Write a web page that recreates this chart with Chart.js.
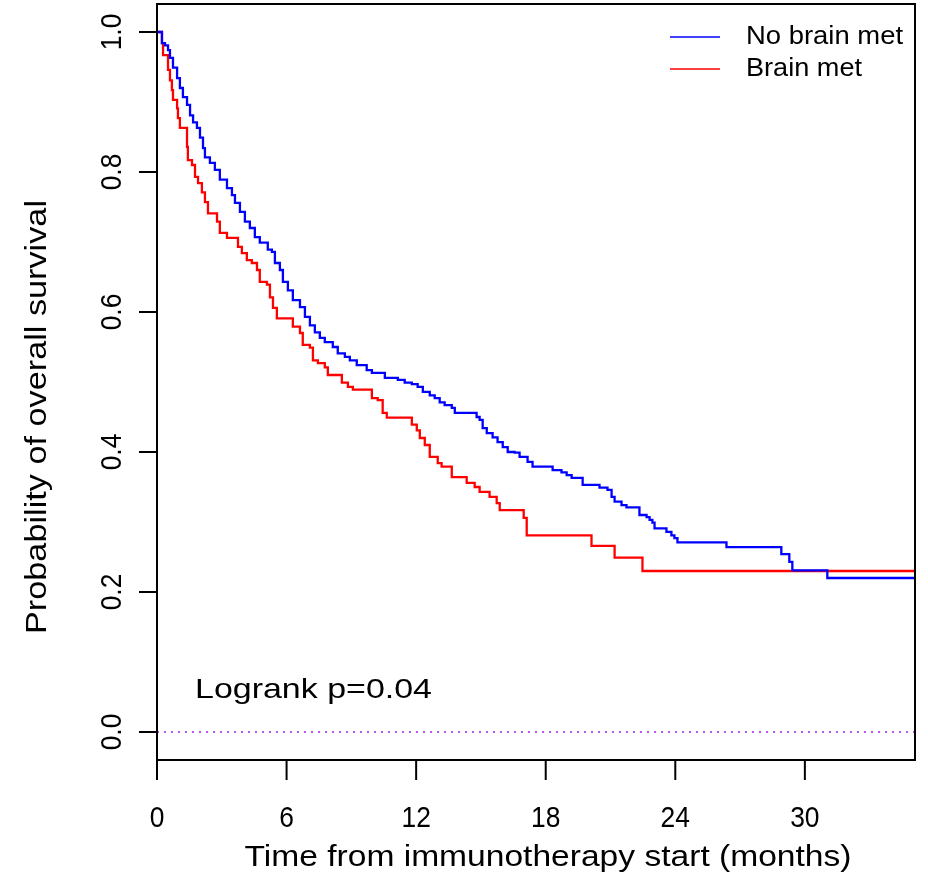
<!DOCTYPE html>
<html>
<head>
<meta charset="utf-8">
<script src="https://cdn.jsdelivr.net/npm/chart.js@4.4.1/dist/chart.umd.min.js"></script>
<style>
  body { margin: 0; background: #fff; }
  #wrap { width: 928px; height: 881px; }
</style>
</head>
<body>
<div id="wrap"><canvas id="kmChart" width="928" height="881"></canvas></div>
<script>
// survival curves (months, probability after each drop)
const noBrainTimes = [0, 0.23, 0.37, 0.51, 0.60, 0.74, 0.93, 1.06, 1.20, 1.39, 1.53, 1.67, 1.85, 1.99, 2.13, 2.22,
  2.45, 2.68, 2.91, 3.24, 3.47, 3.61, 3.84, 4.07, 4.30, 4.53, 4.76, 5.13, 5.32, 5.46, 5.69, 5.83, 6.06, 6.29,
  6.62, 6.85, 7.08, 7.31, 7.54, 7.77, 8.14, 8.37, 8.70, 8.93, 9.25, 9.71, 9.95, 10.55, 11.15, 11.47, 11.80,
  12.07, 12.31, 12.63, 12.86, 13.09, 13.32, 13.65, 13.79, 14.80, 14.94, 15.08, 15.27, 15.54, 15.77, 16.01,
  16.24, 16.56, 16.79, 17.16, 17.39, 18.32, 18.73, 18.97, 19.20, 19.71, 20.49, 20.86, 21.05, 21.19, 21.51,
  21.74, 22.34, 22.67, 22.81, 22.94, 23.04, 23.59, 23.82, 23.96, 24.10, 26.37, 28.91, 29.28, 29.42, 31.04, 35.1];
const noBrainSurv = [1.0, 0.984, 0.981, 0.974, 0.963, 0.949, 0.934, 0.920, 0.907, 0.896, 0.881, 0.871, 0.863, 0.849, 0.834, 0.821,
  0.813, 0.803, 0.789, 0.777, 0.767, 0.756, 0.743, 0.729, 0.720, 0.707, 0.699, 0.689, 0.686, 0.670, 0.660, 0.643, 0.631, 0.617,
  0.607, 0.593, 0.581, 0.571, 0.563, 0.557, 0.550, 0.541, 0.536, 0.531, 0.524, 0.517, 0.513, 0.506, 0.503, 0.499, 0.497,
  0.493, 0.486, 0.481, 0.477, 0.471, 0.467, 0.463, 0.456, 0.450, 0.446, 0.434, 0.427, 0.421, 0.414, 0.407,
  0.400, 0.399, 0.393, 0.386, 0.379, 0.374, 0.371, 0.367, 0.363, 0.353, 0.349, 0.346, 0.336, 0.329, 0.324,
  0.321, 0.310, 0.307, 0.303, 0.299, 0.291, 0.286, 0.281, 0.277, 0.271, 0.264, 0.254, 0.243, 0.231, 0.220, 0.220];

const brainTimes = [0, 0.23, 0.28, 0.51, 0.60, 0.69, 0.74, 0.93, 0.97, 1.06, 1.39, 1.43, 1.62, 1.76, 1.90, 2.08, 2.22,
  2.36, 2.78, 2.91, 3.24, 3.75, 3.93, 4.16, 4.39, 4.63, 4.76, 5.09, 5.23, 5.37, 5.55, 6.29, 6.62, 6.75, 7.08,
  7.22, 7.45, 7.77, 7.91, 8.56, 8.84, 9.07, 9.95, 10.22, 10.45, 10.64, 11.80, 12.03, 12.17, 12.40, 12.63,
  13.00, 13.18, 13.65, 14.34, 14.71, 14.94, 15.40, 15.73, 15.87, 16.98, 17.12, 20.12, 21.19, 22.48, 35.1];
const brainSurv = [1.0, 0.984, 0.967, 0.946, 0.931, 0.917, 0.903, 0.891, 0.877, 0.863, 0.836, 0.817, 0.810, 0.793, 0.784, 0.771, 0.757,
  0.741, 0.729, 0.713, 0.706, 0.693, 0.684, 0.674, 0.670, 0.660, 0.643, 0.639, 0.621, 0.606, 0.591, 0.579, 0.570, 0.553, 0.549,
  0.531, 0.527, 0.521, 0.510, 0.499, 0.493, 0.489, 0.477, 0.474, 0.456, 0.449, 0.439, 0.431, 0.420, 0.410, 0.393,
  0.384, 0.379, 0.364, 0.356, 0.350, 0.343, 0.336, 0.327, 0.317, 0.306, 0.281, 0.266, 0.249, 0.230, 0.230];

const xTicks = [0, 6, 12, 18, 24, 30];
const yTicks = [0.0, 0.2, 0.4, 0.6, 0.8, 1.0];
const seriesNames = ['No brain met', 'Brain met'];
const seriesColors = ['#0000ff', '#ff0000'];
const pValueText = 'Logrank p=0.04';

const FONT = '"Liberation Sans", Arial, sans-serif';

function toPoints(xs, ys) {
  return xs.map((x, i) => ({ x: x, y: ys[i] }));
}

// draw text squeezed/stretched to a given width (or by a fixed factor)
function fitText(ctx, text, x, y, size, width, align, squeeze) {
  ctx.font = size + 'px ' + FONT;
  const w = ctx.measureText(text).width;
  const k = width ? width / w : (squeeze || 1);
  ctx.save();
  ctx.translate(x, y);
  ctx.scale(k, 1);
  ctx.textAlign = align || 'center';
  ctx.textBaseline = 'middle';
  ctx.fillText(text, 0, 0);
  ctx.restore();
}

const rAxes = {
  id: 'rAxes',
  afterDraw(chart) {
    const ctx = chart.ctx;
    const xs = chart.scales.x, ys = chart.scales.y;
    const a = chart.chartArea;
    ctx.save();
    ctx.strokeStyle = '#000';
    ctx.fillStyle = '#000';
    ctx.lineWidth = 2;
    ctx.strokeRect(a.left, a.top, a.right - a.left, a.bottom - a.top);

    // x axis ticks + labels
    xTicks.forEach(t => {
      const px = xs.getPixelForValue(t);
      ctx.beginPath();
      ctx.moveTo(px, a.bottom);
      ctx.lineTo(px, a.bottom + 20);
      ctx.stroke();
      fitText(ctx, String(t), px, 819, 30, null, 'center', 0.88);
    });
    fitText(ctx, 'Time from immunotherapy start (months)', 548, 858, 29, 607, 'center');

    // y axis ticks + rotated labels
    yTicks.forEach(v => {
      const py = ys.getPixelForValue(v);
      ctx.beginPath();
      ctx.moveTo(a.left, py);
      ctx.lineTo(a.left - 18, py);
      ctx.stroke();
      ctx.save();
      ctx.translate(113, py);
      ctx.rotate(-Math.PI / 2);
      fitText(ctx, v.toFixed(1), 0, 0, 30, null, 'center', 0.88);
      ctx.restore();
    });
    ctx.save();
    ctx.translate(38, 417);
    ctx.rotate(-Math.PI / 2);
    fitText(ctx, 'Probability of overall survival', 0, 0, 29, 434, 'center');
    ctx.restore();

    // legend in the top right corner
    const legendY = [37, 69];
    seriesNames.forEach((name, i) => {
      ctx.strokeStyle = seriesColors[i];
      ctx.lineWidth = 1.5;
      ctx.beginPath();
      ctx.moveTo(670, legendY[i]);
      ctx.lineTo(720, legendY[i]);
      ctx.stroke();
      ctx.fillStyle = '#000';
      fitText(ctx, name, 746, legendY[i], 26, i === 0 ? 157 : 116, 'left');
    });

    fitText(ctx, pValueText, 195, 690, 28, 237, 'left');
    ctx.restore();
  }
};

const ctx = document.getElementById('kmChart').getContext('2d');
new Chart(ctx, {
  type: 'line',
  data: {
    datasets: [
      {
        label: seriesNames[0],
        data: toPoints(noBrainTimes, noBrainSurv),
        borderColor: seriesColors[0],
        borderWidth: 2.3,
        stepped: 'before',
        pointRadius: 0,
        fill: false
      },
      {
        label: seriesNames[1],
        data: toPoints(brainTimes, brainSurv),
        borderColor: seriesColors[1],
        borderWidth: 2.3,
        stepped: 'before',
        pointRadius: 0,
        fill: false
      },
      {
        label: 'zero',
        data: [{ x: 0, y: 0 }, { x: 35.1, y: 0 }],
        borderColor: '#a020f0',
        borderWidth: 1.5,
        borderDash: [2, 5],
        pointRadius: 0,
        fill: false
      }
    ]
  },
  options: {
    responsive: false,
    animation: false,
    layout: { padding: { left: 157, right: 13, top: 4, bottom: 121 } },
    plugins: { legend: { display: false }, tooltip: { enabled: false } },
    scales: {
      x: { type: 'linear', min: 0, max: 35.1, display: false },
      y: { type: 'linear', min: -0.04, max: 1.04, display: false }
    }
  },
  plugins: [rAxes]
});
</script>
</body>
</html>
